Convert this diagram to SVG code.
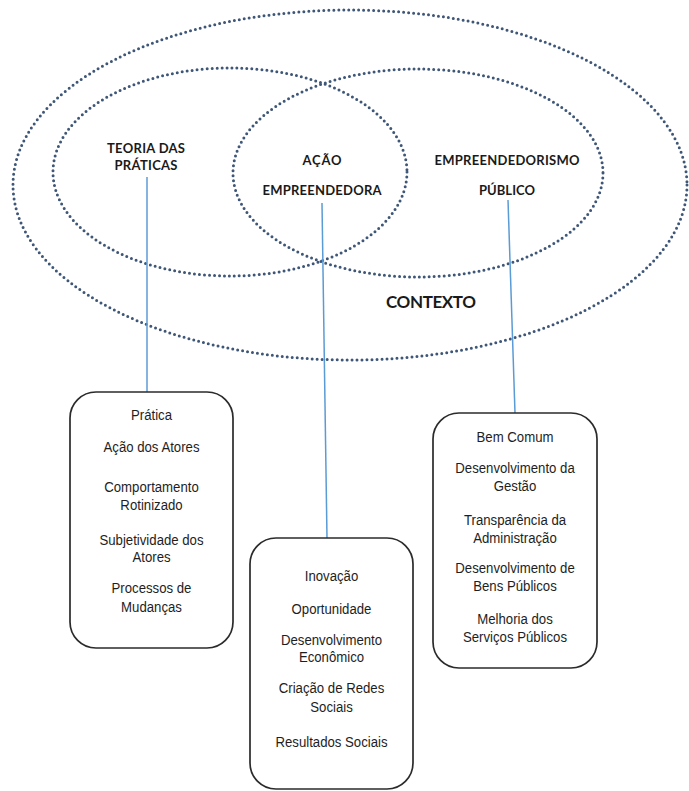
<svg xmlns="http://www.w3.org/2000/svg" width="689" height="791" viewBox="0 0 689 791">
<style>
.dot{fill:none;stroke:#3E5677;stroke-width:3;stroke-dasharray:0 5;stroke-linecap:round}
.con{stroke:#5B9BD5;stroke-width:1.5;fill:none}
.box{fill:#fff;stroke:#2b2b2b;stroke-width:1.7}
.hd{font-family:Lato,"Open Sans","DejaVu Sans",sans-serif;font-weight:700;font-size:13px;fill:#1a1a1a;text-anchor:middle}
.ctx{font-size:17px}
.bt{font-family:"Liberation Sans",Arial,sans-serif;font-size:15px;fill:#1e1e1e;text-anchor:middle}
</style>
<rect width="689" height="791" fill="#fff"/>
<g id="contexto">
<ellipse class="dot" cx="350" cy="185" rx="337" ry="175"/>
<text class="hd ctx" x="431" y="308" textLength="90">CONTEXTO</text>
</g>
<g id="teoria-das-praticas">
<ellipse class="dot" cx="230" cy="172" rx="177" ry="104"/>
<text class="hd" x="146" y="153" textLength="78">TEORIA DAS</text>
<text class="hd" x="146" y="170" textLength="63">PRÁTICAS</text>
</g>
<g id="empreendedorismo-publico">
<ellipse class="dot" cx="418" cy="173" rx="185" ry="104"/>
<text class="hd" x="507" y="165" textLength="145">EMPREENDEDORISMO</text>
<text class="hd" x="507" y="195" textLength="56">PÚBLICO</text>
</g>
<g id="acao-empreendedora">
<text class="hd" x="322" y="165" textLength="39">AÇÃO</text>
<text class="hd" x="322" y="195" textLength="119">EMPREENDEDORA</text>
</g>
<g id="connectors">
<line class="con" x1="147" y1="177" x2="147" y2="392"/>
<line class="con" x1="322" y1="203" x2="327" y2="538"/>
<line class="con" x1="508" y1="200" x2="515" y2="413"/>
</g>
<g id="box-praticas">
<rect class="box" x="70" y="392" width="163" height="256" rx="26"/>
<g transform="translate(151.5 0) scale(0.88 1)">
<text class="bt" x="0" y="420">Prática</text>
<text class="bt" x="0" y="452">Ação dos Atores</text>
<text class="bt" x="0" y="492">Comportamento</text>
<text class="bt" x="0" y="510">Rotinizado</text>
<text class="bt" x="0" y="545">Subjetividade dos</text>
<text class="bt" x="0" y="562">Atores</text>
<text class="bt" x="0" y="593">Processos de</text>
<text class="bt" x="0" y="612">Mudanças</text>
</g>
</g>
<g id="box-acao">
<rect class="box" x="250" y="538" width="163" height="251" rx="26"/>
<g transform="translate(331.5 0) scale(0.88 1)">
<text class="bt" x="0" y="581">Inovação</text>
<text class="bt" x="0" y="614">Oportunidade</text>
<text class="bt" x="0" y="645">Desenvolvimento</text>
<text class="bt" x="0" y="662">Econômico</text>
<text class="bt" x="0" y="693">Criação de Redes</text>
<text class="bt" x="0" y="712">Sociais</text>
<text class="bt" x="0" y="747">Resultados Sociais</text>
</g>
</g>
<g id="box-empreendedorismo">
<rect class="box" x="433" y="413" width="164" height="255" rx="26"/>
<g transform="translate(515 0) scale(0.88 1)">
<text class="bt" x="0" y="442">Bem Comum</text>
<text class="bt" x="0" y="473">Desenvolvimento da</text>
<text class="bt" x="0" y="491">Gestão</text>
<text class="bt" x="0" y="525">Transparência da</text>
<text class="bt" x="0" y="543">Administração</text>
<text class="bt" x="0" y="573">Desenvolvimento de</text>
<text class="bt" x="0" y="591">Bens Públicos</text>
<text class="bt" x="0" y="624">Melhoria dos</text>
<text class="bt" x="0" y="642">Serviços Públicos</text>
</g>
</g>
</svg>
